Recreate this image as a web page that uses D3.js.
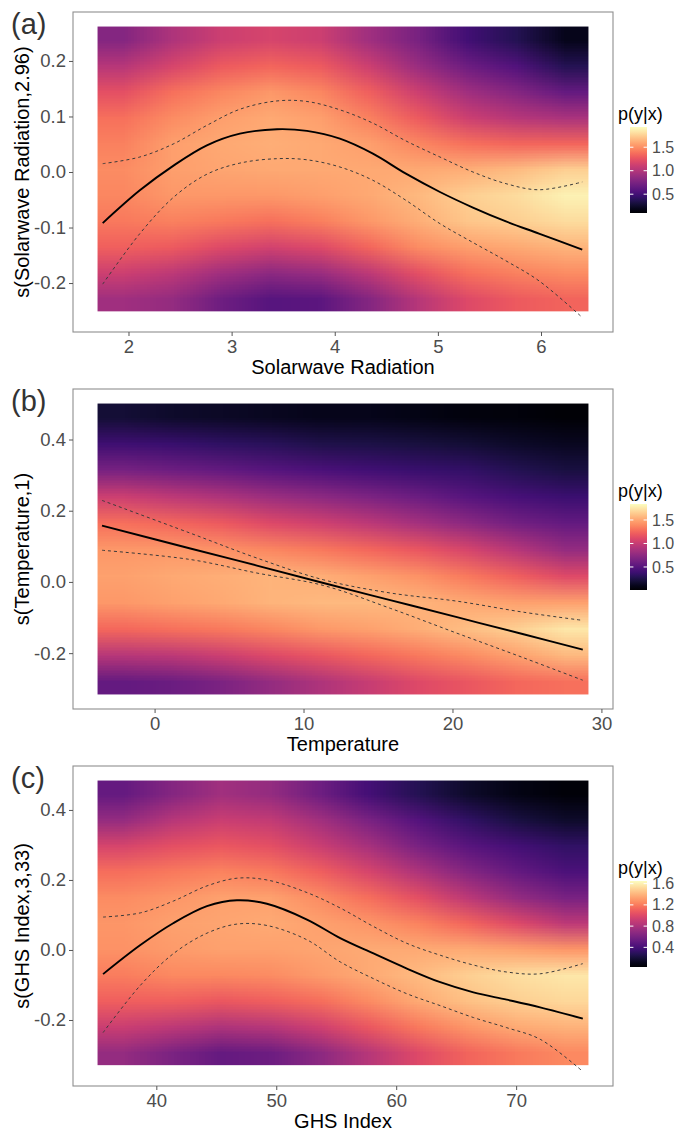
<!DOCTYPE html>
<html lang="en">
<head>
<meta charset="UTF-8">
<title>Conditional densities p(y|x)</title>
<script src="https://d3js.org/d3.v7.min.js"></script>
<style>
  body { margin: 0; background: #ffffff; }
  svg text { font-family: "Liberation Sans", Arial, sans-serif; }
</style>
</head>
<body>
<div id="chart"></div>
<script>
// ---- (a) Solarwave Radiation ----
const radX     = [1.75, 2.11, 2.44, 2.76, 3.08, 3.44, 3.73, 4.05, 4.37, 4.69, 5.02, 5.34, 5.66, 5.98, 6.40];
const radFit   = [-0.092, -0.033, 0.012, 0.048, 0.069, 0.077, 0.074, 0.060, 0.033, -0.003, -0.036, -0.064, -0.089, -0.111, -0.140];
const radUpper = [0.015, 0.027, 0.051, 0.084, 0.113, 0.128, 0.127, 0.112, 0.088, 0.056, 0.027, 0.000, -0.021, -0.032, -0.018];
const radLower = [-0.202, -0.111, -0.045, -0.004, 0.016, 0.024, 0.022, 0.009, -0.015, -0.051, -0.093, -0.127, -0.160, -0.196, -0.262];
const radCellX = [1.70, 6.46];
const radCellY = [-0.251, 0.262];
// rows from top (high y) to bottom, columns left to right
const radDensity = [
  [0.80, 0.98, 1.11, 1.16, 1.11, 0.92, 0.74, 0.50, 0.37, 0.19],
  [1.02, 1.16, 1.29, 1.34, 1.29, 1.11, 0.89, 0.69, 0.56, 0.37],
  [1.23, 1.38, 1.47, 1.53, 1.47, 1.31, 1.11, 0.92, 0.80, 0.65],
  [1.38, 1.49, 1.56, 1.60, 1.56, 1.45, 1.29, 1.11, 1.02, 0.96],
  [1.45, 1.56, 1.60, 1.62, 1.60, 1.56, 1.47, 1.38, 1.34, 1.34],
  [1.49, 1.56, 1.58, 1.60, 1.60, 1.60, 1.60, 1.62, 1.67, 1.75],
  [1.47, 1.53, 1.53, 1.53, 1.56, 1.60, 1.66, 1.75, 1.80, 1.88],
  [1.42, 1.45, 1.42, 1.38, 1.44, 1.53, 1.62, 1.71, 1.75, 1.80],
  [1.31, 1.29, 1.20, 1.14, 1.20, 1.34, 1.49, 1.56, 1.60, 1.64],
  [1.11, 1.05, 0.92, 0.83, 0.89, 1.05, 1.23, 1.38, 1.45, 1.49],
  [0.92, 0.87, 0.70, 0.59, 0.61, 0.80, 1.02, 1.20, 1.29, 1.33]
];
const radLimits = [0.10, 1.93];
const radLegendTicks = [0.5, 1.0, 1.5];
const radXTicks = [2, 3, 4, 5, 6];
const radYTicks = [-0.2, -0.1, 0.0, 0.1, 0.2];

// ---- (b) Temperature ----
const tempX     = [-3.53, 2.40, 6.87, 11.34, 15.82, 20.30, 24.77, 28.75];
const tempFit   = [0.158, 0.094, 0.046, -0.003, -0.051, -0.099, -0.147, -0.190];
const tempUpper = [0.229, 0.137, 0.067, 0.006, -0.031, -0.054, -0.085, -0.108];
const tempLower = [0.089, 0.063, 0.025, -0.010, -0.074, -0.144, -0.213, -0.276];
const tempCellX = [-3.83, 29.13];
const tempCellY = [-0.316, 0.501];
const tempDensity = [
  [0.19, 0.16, 0.14, 0.12, 0.10, 0.10, 0.08, 0.06, 0.05, 0.03],
  [0.39, 0.37, 0.33, 0.30, 0.26, 0.24, 0.22, 0.19, 0.15, 0.12],
  [0.65, 0.61, 0.56, 0.50, 0.45, 0.41, 0.37, 0.34, 0.28, 0.23],
  [1.02, 0.96, 0.89, 0.81, 0.74, 0.67, 0.59, 0.50, 0.43, 0.38],
  [1.29, 1.26, 1.20, 1.11, 1.04, 0.96, 0.85, 0.74, 0.63, 0.56],
  [1.44, 1.44, 1.42, 1.38, 1.33, 1.26, 1.18, 1.07, 0.93, 0.78],
  [1.48, 1.51, 1.53, 1.55, 1.53, 1.48, 1.42, 1.33, 1.22, 1.11],
  [1.44, 1.48, 1.51, 1.55, 1.57, 1.57, 1.55, 1.51, 1.48, 1.48],
  [1.26, 1.29, 1.33, 1.38, 1.44, 1.48, 1.53, 1.59, 1.66, 1.75],
  [0.93, 0.96, 1.02, 1.11, 1.18, 1.26, 1.33, 1.40, 1.48, 1.57],
  [0.56, 0.59, 0.67, 0.78, 0.89, 1.00, 1.11, 1.18, 1.26, 1.29]
];
const tempLimits = [0.01, 1.84];
const tempLegendTicks = [0.5, 1.0, 1.5];
const tempXTicks = [0, 10, 20, 30];
const tempYTicks = [-0.2, 0.0, 0.2, 0.4];

// ---- (c) GHS Index ----
const ghsX     = [35.56, 38.67, 41.44, 44.22, 46.72, 49.22, 52.56, 55.33, 58.11, 60.89, 63.67, 66.44, 69.22, 72.00, 75.56];
const ghsFit   = [-0.069, 0.014, 0.077, 0.125, 0.142, 0.132, 0.087, 0.034, -0.010, -0.053, -0.092, -0.121, -0.142, -0.164, -0.196];
const ghsUpper = [0.094, 0.106, 0.140, 0.183, 0.205, 0.200, 0.164, 0.120, 0.067, 0.019, -0.015, -0.043, -0.063, -0.068, -0.039];
const ghsLower = [-0.236, -0.101, -0.010, 0.048, 0.074, 0.070, 0.029, -0.034, -0.082, -0.125, -0.159, -0.193, -0.222, -0.255, -0.347];
const ghsCellX = [35.10, 76.03];
const ghsCellY = [-0.329, 0.484];
const ghsDensity = [
  [0.52, 0.65, 0.76, 0.71, 0.56, 0.39, 0.27, 0.16, 0.09, 0.05],
  [0.71, 0.84, 0.92, 0.89, 0.76, 0.60, 0.45, 0.32, 0.22, 0.16],
  [0.97, 1.03, 1.07, 1.03, 0.92, 0.78, 0.60, 0.47, 0.39, 0.32],
  [1.16, 1.20, 1.23, 1.20, 1.10, 0.97, 0.81, 0.65, 0.52, 0.42],
  [1.26, 1.29, 1.33, 1.33, 1.26, 1.16, 1.03, 0.87, 0.71, 0.60],
  [1.29, 1.33, 1.34, 1.36, 1.33, 1.29, 1.23, 1.13, 1.00, 0.87],
  [1.28, 1.31, 1.33, 1.33, 1.34, 1.36, 1.36, 1.36, 1.33, 1.29],
  [1.21, 1.25, 1.25, 1.26, 1.31, 1.36, 1.42, 1.49, 1.54, 1.57],
  [1.10, 1.10, 1.07, 1.10, 1.16, 1.26, 1.36, 1.44, 1.49, 1.52],
  [0.92, 0.87, 0.81, 0.84, 0.94, 1.07, 1.20, 1.29, 1.36, 1.39],
  [0.71, 0.61, 0.52, 0.55, 0.68, 0.84, 1.00, 1.12, 1.20, 1.25]
];
const ghsLimits = [0.03, 1.65];
const ghsLegendTicks = [0.4, 0.8, 1.2, 1.6];
const ghsXTicks = [40, 50, 60, 70];
const ghsYTicks = [-0.2, 0.0, 0.2, 0.4];

const panels = [
  { tag: "(a)", xTitle: "Solarwave Radiation", yTitle: "s(Solarwave Radiation,2.96)",
    x: radX, fit: radFit, upper: radUpper, lower: radLower, cellX: radCellX, cellY: radCellY,
    density: radDensity, limits: radLimits, legendTicks: radLegendTicks, xTicks: radXTicks, yTicks: radYTicks,
    xFmt: d3.format("d"), legFmt: d3.format(".1f") },
  { tag: "(b)", xTitle: "Temperature", yTitle: "s(Temperature,1)",
    x: tempX, fit: tempFit, upper: tempUpper, lower: tempLower, cellX: tempCellX, cellY: tempCellY,
    density: tempDensity, limits: tempLimits, legendTicks: tempLegendTicks, xTicks: tempXTicks, yTicks: tempYTicks,
    xFmt: d3.format("d"), legFmt: d3.format(".1f") },
  { tag: "(c)", xTitle: "GHS Index", yTitle: "s(GHS Index,3,33)",
    x: ghsX, fit: ghsFit, upper: ghsUpper, lower: ghsLower, cellX: ghsCellX, cellY: ghsCellY,
    density: ghsDensity, limits: ghsLimits, legendTicks: ghsLegendTicks, xTicks: ghsXTicks, yTicks: ghsYTicks,
    xFmt: d3.format("d"), legFmt: d3.format(".1f") }
];

const W = 678, H = 1133;
const panelLeft = 73, panelRight = 613, panelH = 320;
const panelTops = [12, 389, 766];
const yFmt = d => d3.format(".1f")(d).replace("\u2212", "-");

const svg = d3.select("#chart").append("svg")
  .attr("width", W).attr("height", H);

// pad a range by 5% like ggplot's default expansion
function expand(lo, hi) {
  const pad = (hi - lo) * 0.05;
  return [lo - pad, hi + pad];
}

panels.forEach((p, i) => {
  const top = panelTops[i], bottom = top + panelH;
  const g = svg.append("g");

  const xDom = expand(d3.min([p.cellX[0], ...p.x]), d3.max([p.cellX[1], ...p.x]));
  const yDom = expand(
    d3.min([p.cellY[0], ...p.fit, ...p.upper, ...p.lower]),
    d3.max([p.cellY[1], ...p.fit, ...p.upper, ...p.lower]));
  const x = d3.scaleLinear().domain(xDom).range([panelLeft, panelRight]);
  const y = d3.scaleLinear().domain(yDom).range([bottom, top]);
  const color = d3.scaleSequential(d3.interpolateMagma).domain(p.limits);

  // density raster: one pixel per grid cell, smoothed when stretched
  const nr = p.density.length, nc = p.density[0].length;
  const cv = document.createElement("canvas");
  cv.width = nc; cv.height = nr;
  const ctx = cv.getContext("2d");
  p.density.forEach((row, r) => row.forEach((v, c) => {
    ctx.fillStyle = color(v);
    ctx.fillRect(c, r, 1, 1);
  }));
  g.append("image")
    .attr("href", cv.toDataURL())
    .attr("x", x(p.cellX[0]))
    .attr("y", y(p.cellY[1]))
    .attr("width", x(p.cellX[1]) - x(p.cellX[0]))
    .attr("height", y(p.cellY[0]) - y(p.cellY[1]))
    .attr("preserveAspectRatio", "none")
    .style("image-rendering", "auto");

  const line = key => d3.line()
    .x((d, k) => x(p.x[k]))
    .y(d => y(d))
    .curve(d3.curveCatmullRom)(p[key]);

  ["upper", "lower"].forEach(k => {
    g.append("path").attr("d", line(k))
      .attr("fill", "none").attr("stroke", "#3a3a3a")
      .attr("stroke-width", 1).attr("stroke-dasharray", "3,3");
  });
  g.append("path").attr("d", line("fit"))
    .attr("fill", "none").attr("stroke", "#000")
    .attr("stroke-width", 1.9);

  // panel border
  g.append("rect")
    .attr("x", panelLeft).attr("y", top)
    .attr("width", panelRight - panelLeft).attr("height", panelH)
    .attr("fill", "none").attr("stroke", "#8f8f8f").attr("stroke-width", 1.1);

  // axes
  const xa = g.append("g").attr("transform", `translate(0,${bottom})`)
    .call(d3.axisBottom(x).tickValues(p.xTicks).tickFormat(p.xFmt).tickSize(4).tickPadding(4));
  const ya = g.append("g").attr("transform", `translate(${panelLeft},0)`)
    .call(d3.axisLeft(y).tickValues(p.yTicks).tickFormat(yFmt).tickSize(4).tickPadding(3));
  [xa, ya].forEach(a => {
    a.select(".domain").remove();
    a.selectAll(".tick line").attr("stroke", "#555");
    a.selectAll(".tick text").attr("fill", "#4d4d4d")
      .attr("font-size", 18.5)
      .style("font-family", '"Liberation Sans", Arial, sans-serif');
  });

  g.append("text")
    .attr("x", (panelLeft + panelRight) / 2).attr("y", bottom + 42)
    .attr("text-anchor", "middle").attr("font-size", 20).attr("fill", "#000")
    .text(p.xTitle);
  g.append("text")
    .attr("transform", `translate(29,${(top + bottom) / 2}) rotate(-90)`)
    .attr("text-anchor", "middle").attr("font-size", 20).attr("fill", "#000")
    .text(p.yTitle);
  g.append("text")
    .attr("x", 11).attr("y", top + 22)
    .attr("font-size", 29).attr("fill", "#333")
    .text(p.tag);

  // colourbar legend
  const barX = 630, barW = 17, barH = 86;
  const barTop = (top + bottom) / 2 - 23 - barH / 2 + 21;
  const lg = svg.append("g");
  const gid = "grad" + i;
  const grad = svg.append("defs").append("linearGradient")
    .attr("id", gid).attr("x1", 0).attr("y1", 1).attr("x2", 0).attr("y2", 0);
  d3.range(0, 1.0001, 0.05).forEach(t => {
    grad.append("stop").attr("offset", t)
      .attr("stop-color", color(p.limits[0] + t * (p.limits[1] - p.limits[0])));
  });
  lg.append("rect").attr("x", barX).attr("y", barTop)
    .attr("width", barW).attr("height", barH).attr("fill", `url(#${gid})`);
  const ly = d3.scaleLinear().domain(p.limits).range([barTop + barH, barTop]);
  p.legendTicks.forEach(t => {
    lg.append("line").attr("x1", barX).attr("x2", barX + 3.4)
      .attr("y1", ly(t)).attr("y2", ly(t)).attr("stroke", "#fff").attr("stroke-width", 1);
    lg.append("line").attr("x1", barX + barW - 3.4).attr("x2", barX + barW)
      .attr("y1", ly(t)).attr("y2", ly(t)).attr("stroke", "#fff").attr("stroke-width", 1);
    lg.append("text").attr("x", barX + barW + 5).attr("y", ly(t))
      .attr("dy", "0.35em").attr("font-size", 16).attr("fill", "#4d4d4d")
      .text(p.legFmt(t));
  });
  lg.append("text").attr("x", 618).attr("y", barTop - 7.5)
    .attr("font-size", 18).attr("fill", "#000").text("p(y|x)");
});
</script>
</body>
</html>
